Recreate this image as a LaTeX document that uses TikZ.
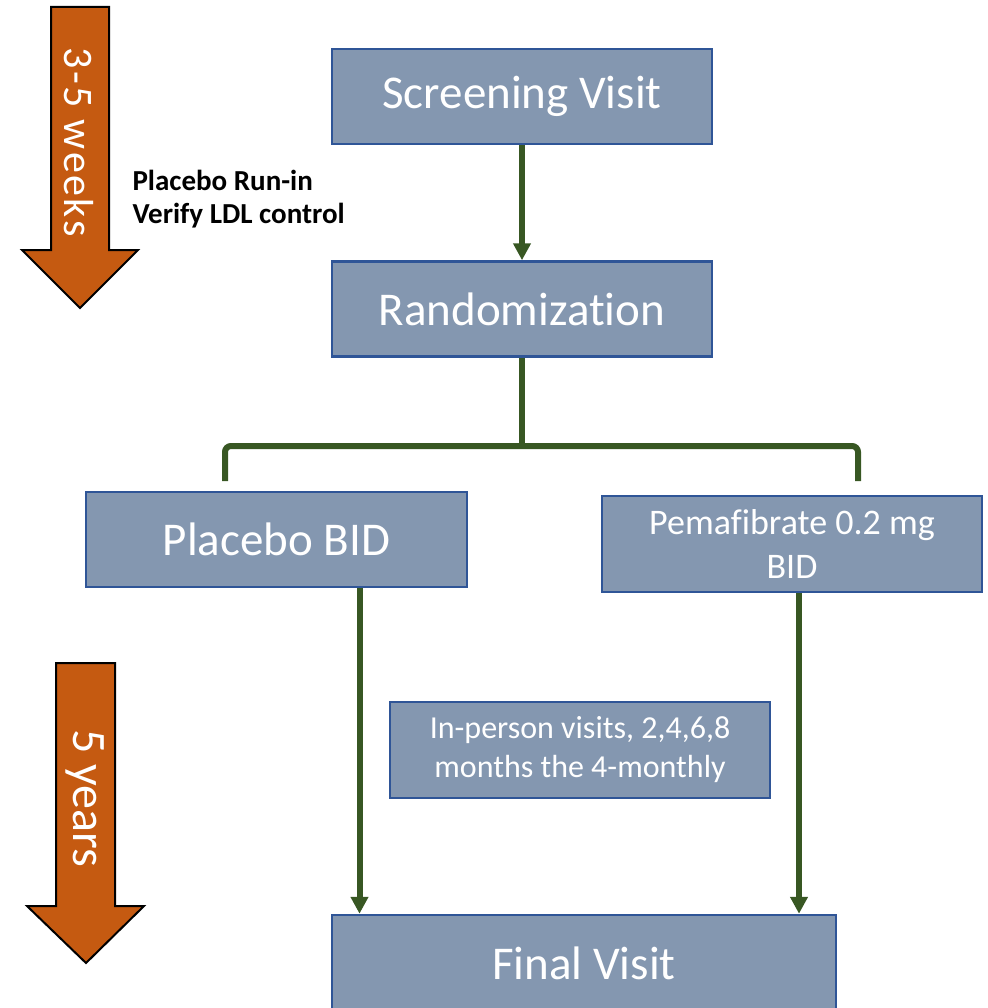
\documentclass[tikz,border=0pt]{standalone}
\usepackage{fontspec}
\setmainfont[Ligatures=NoCommon]{Carlito}
\usetikzlibrary{arrows.meta}

\definecolor{boxfill}{HTML}{8497B0}
\definecolor{boxline}{HTML}{2F5597}
\definecolor{flowgreen}{HTML}{385723}
\definecolor{timeorange}{HTML}{C55A11}

\begin{document}
\begin{tikzpicture}[x=1pt,y=-1pt,
  visit/.style={draw=boxline, line width=2.5pt, fill=boxfill, text=white,
    align=center, inner sep=0pt},
  flow/.style={draw=flowgreen, line width=6pt,
    -{Triangle[width=17pt,length=17pt]}},
  branch/.style={draw=flowgreen, line width=6pt, rounded corners=6pt},
  timeline/.style={draw=black, line width=2pt, fill=timeorange, line join=miter}]

\useasboundingbox (0,0) rectangle (987,1008);

% time arrows on the left
\draw [timeline] (51,7) -- (109,7) -- (109,250) -- (138,250) -- (80,308)
  -- (22,250) -- (51,250) -- cycle;
\node (weeks) [rotate=-90, text=white, font=\addfontfeatures{LetterSpace=6}\fontsize{42}{50}\selectfont] at (79,142) {3-5 weeks};

\draw [timeline] (56,663) -- (115,663) -- (115,906) -- (144,906) -- (86,963)
  -- (27,906) -- (56,906) -- cycle;
\node (years) [rotate=-90, text=white, font=\fontsize{48}{56}\selectfont] at (85.5,798) {5 years};

\node (runin) [anchor=west, align=left, font=\bfseries\fontsize{29}{33}\selectfont] at (129,199)
  {Placebo Run-in\\Verify LDL control};

% study visits
\node (screen) [visit, minimum width=380pt, minimum height=95pt, font=\fontsize{47}{56}\selectfont]
  at (522,96.5) {Screening Visit};
\node (rand) [visit, minimum width=380pt, minimum height=95pt, font=\fontsize{47}{56}\selectfont]
  at (522,309) {Randomization};
\node (plac) [visit, minimum width=381pt, minimum height=95pt, font=\fontsize{47}{56}\selectfont]
  at (276.5,539.5) {Placebo BID};
\node (pema) [visit, minimum width=380pt, minimum height=96pt, font=\fontsize{36}{44}\selectfont]
  at (792,544) {Pemafibrate 0.2 mg\\BID};
\node (inperson) [visit, minimum width=380pt, minimum height=96pt, font=\fontsize{32}{39}\selectfont]
  at (580,750) {In-person visits, 2,4,6,8\\months the 4-monthly};
\node (final) [visit, minimum width=504pt, minimum height=97pt, font=\fontsize{47}{56}\selectfont]
  at (584,963.5) {Final Visit};

% connectors
\draw [flow] (screen) -- (rand);

\coordinate (split) at (522,446);
\coordinate (lbr) at (225,481);
\coordinate (rbr) at (858,481);
\draw [branch] (rand.south) -- (split);
\draw [branch] (lbr) |- (split) -| (rbr);

\draw [flow] ([xshift=83pt]plac.south) -- ([xshift=83pt]plac.south |- final.north);
\draw [flow] ([xshift=7pt]pema.south) -- ([xshift=7pt]pema.south |- final.north);

\end{tikzpicture}
\end{document}
